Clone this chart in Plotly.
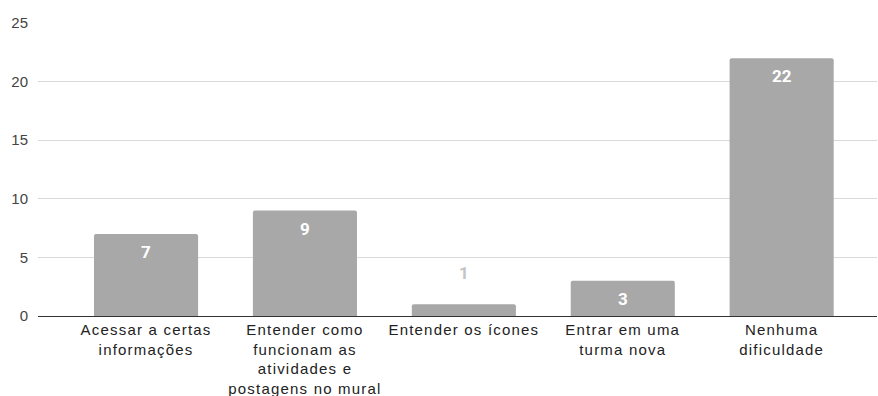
import plotly.graph_objects as go

# Difficulties reported by respondents
categorias = [
    "Acessar a certas<br>informações",
    "Entender como<br>funcionam as<br>atividades e<br>postagens no mural",
    "Entender os ícones",
    "Entrar em uma<br>turma nova",
    "Nenhuma<br>dificuldade",
]
respostas = [7, 9, 1, 3, 22]
y_ticks = [0, 5, 10, 15, 20, 25]

x_pos = list(range(len(categorias)))
FONTE = "Liberation Sans, Arial, sans-serif"


def espacado(texto, px=1.2):
    """Wrap each line of a label in a span with extra letter spacing."""
    linhas = texto.split("<br>")
    return "<br>".join(f'<span style="letter-spacing:{px}px">{l}</span>' for l in linhas)


fig = go.Figure(
    go.Bar(
        x=x_pos,
        y=respostas,
        marker=dict(color="#a8a8a8", cornerradius=2, line=dict(width=0)),
        hoverinfo="skip",
    )
)

# Value labels: inside the bar near its top, or above it (grey) for very short bars
for xi, v in zip(x_pos, respostas):
    fora = v < 2
    fig.add_annotation(
        x=xi,
        y=v,
        text=f"<b>{v}</b>",
        showarrow=False,
        xanchor="center",
        yanchor="middle",
        yshift=31 if fora else -18,
        font=dict(family="Roboto, Arial, sans-serif", size=17,
                  color="#c4c4c4" if fora else "#ffffff"),
    )

fig.update_layout(
    width=878,
    height=396,
    margin=dict(l=38, r=1, t=23, b=80, autoexpand=False),
    paper_bgcolor="white",
    plot_bgcolor="white",
    bargap=0.345,
    showlegend=False,
    font=dict(family=FONTE, size=15, color="#222222"),
)

fig.update_xaxes(
    tickmode="array",
    tickvals=x_pos,
    ticktext=[espacado(c) for c in categorias],
    tickangle=0,
    range=[-0.68, 4.6],
    automargin=False,
    showgrid=False,
    showline=True,
    linecolor="#333333",
    linewidth=1,
    ticks="",
    tickfont=dict(family=FONTE, size=15, color="#222222"),
    zeroline=False,
)

fig.update_yaxes(
    range=[0, 25],
    tickmode="array",
    tickvals=y_ticks,
    automargin=False,
    showgrid=True,
    gridcolor="#d9d9d9",
    gridwidth=1,
    zeroline=False,
    ticks="",
    ticklabelstandoff=9,
    tickfont=dict(family=FONTE, size=15, color="#444444"),
)

fig.write_html("out.html")
